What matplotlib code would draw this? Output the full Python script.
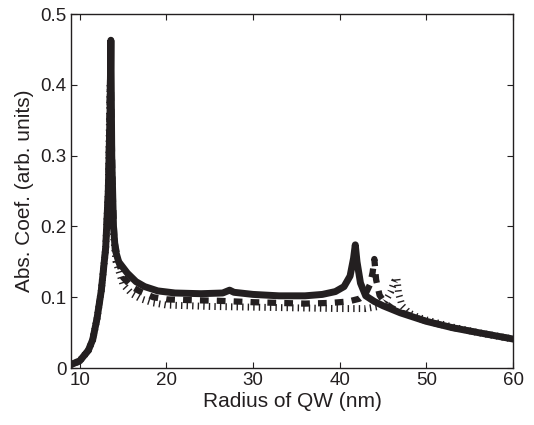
import numpy as np
import matplotlib
matplotlib.use("Agg")
import matplotlib.pyplot as plt

plt.rcParams['font.family'] = ['Liberation Sans', 'DejaVu Sans']

# solid curve
x_solid = [9, 10, 11, 11.5, 12, 12.5, 13, 13.3, 13.5, 13.6, 13.7, 13.9, 14.1, 14.5, 15.5,
           16.5, 17.5, 19, 21, 24, 26.5, 27.3, 27.8, 30, 33, 36, 38, 39.5, 40.5, 41.2,
           41.6, 41.8, 42.0, 42.4, 43, 44, 45, 47, 50, 53, 56, 60]
y_solid = [0.005, 0.01, 0.025, 0.04, 0.07, 0.11, 0.17, 0.25, 0.36, 0.463, 0.3, 0.2, 0.167,
           0.15, 0.134, 0.122, 0.115, 0.109, 0.106, 0.105, 0.106, 0.110, 0.107, 0.104,
           0.102, 0.102, 0.104, 0.108, 0.115, 0.13, 0.155, 0.174, 0.15, 0.12, 0.102, 0.094,
           0.088, 0.078, 0.066, 0.057, 0.05, 0.041]

# dashed curve
x_dash = [9, 10, 11, 11.5, 12, 12.5, 13, 13.3, 13.55, 13.8, 14.0, 14.5, 15, 16, 17, 18.5,
          20, 22.5, 26, 30, 33, 36, 39, 41, 42.3, 43, 43.5, 43.8, 44, 44.2, 44.6, 45.2, 46,
          47, 50, 53, 56, 60]
y_dash = [0.005, 0.01, 0.025, 0.04, 0.07, 0.11, 0.17, 0.25, 0.44, 0.25, 0.18, 0.15, 0.128,
          0.115, 0.108, 0.1, 0.097, 0.096, 0.095, 0.093, 0.092, 0.091, 0.092, 0.094, 0.098,
          0.105, 0.118, 0.135, 0.154, 0.125, 0.103, 0.092, 0.085, 0.079, 0.066, 0.057,
          0.05, 0.041]

# dotted curve
x_dot = [9, 10, 11, 11.5, 12, 12.5, 13, 13.3, 13.5, 13.8, 14.2, 15, 16, 17, 18.5, 20, 25,
         30, 35, 40, 43, 44.5, 45.3, 45.9, 46.3, 46.6, 46.8, 47.2, 48, 49, 50, 53, 56, 60]
y_dot = [0.005, 0.01, 0.025, 0.04, 0.07, 0.11, 0.17, 0.25, 0.40, 0.2, 0.15, 0.118, 0.105,
         0.098, 0.092, 0.089, 0.087, 0.086, 0.085, 0.084, 0.084, 0.087, 0.095, 0.108,
         0.122, 0.127, 0.105, 0.088, 0.078, 0.072, 0.068, 0.058, 0.05, 0.041]

xticks = [10, 20, 30, 40, 50, 60]
yticks = [0, 0.1, 0.2, 0.3, 0.4, 0.5]
ytick_labels = ['0', '0.1', '0.2', '0.3', '0.4', '0.5']

fig = plt.figure(figsize=(5.34, 4.25), dpi=100)
ax = fig.add_axes([0.133, 0.134, 0.8277, 0.833])

col = '#231f20'
ax.plot(x_dot, y_dot, color=col, lw=5, dashes=(0.2, 0.6), solid_capstyle='butt',
        dash_capstyle='butt')
ax.plot(x_dash, y_dash, color=col, lw=4.5, dashes=(1.4, 1.3), dash_capstyle='butt')
ax.plot(x_solid, y_solid, color=col, lw=5, solid_joinstyle='round')

ax.set_xlim(9, 60)
ax.set_ylim(0, 0.5)
ax.set_xticks(xticks)
ax.set_yticks(yticks)
ax.set_yticklabels(ytick_labels)
ax.tick_params(direction='in', top=True, right=True, length=4, labelsize=13.5, pad=3,
               color=col, labelcolor=col)
for s in ax.spines.values():
    s.set_color(col)
    s.set_linewidth(1.0)
ax.set_xlabel('Radius of QW (nm)', fontsize=15, color=col, labelpad=2)
ax.set_ylabel('Abs. Coef. (arb. units)', fontsize=15, color=col, labelpad=5)

fig.savefig('out.png', dpi=100)
